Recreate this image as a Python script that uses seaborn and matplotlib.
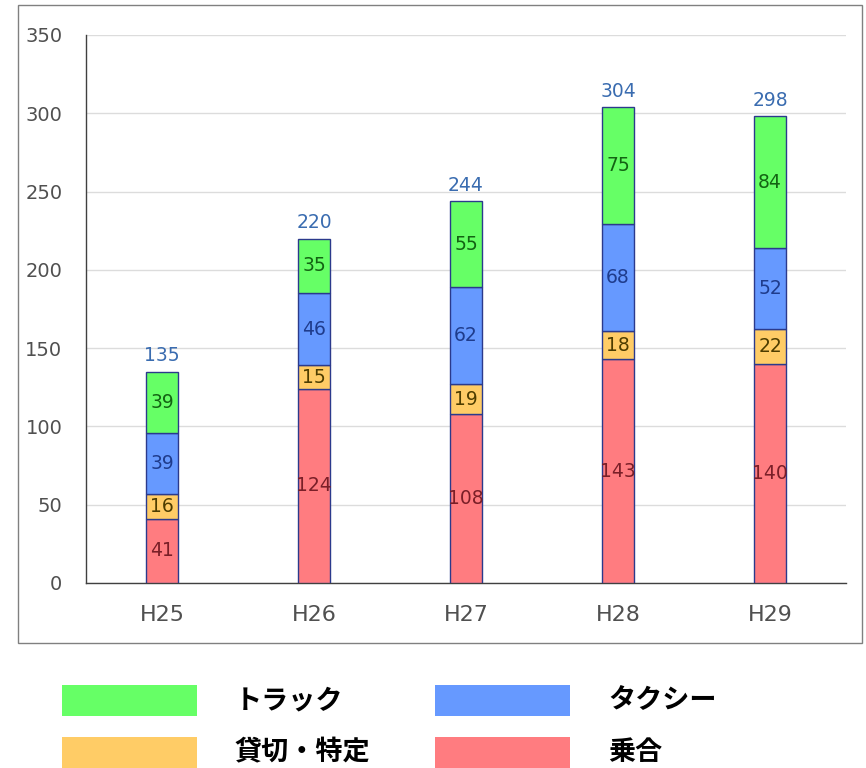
import matplotlib
matplotlib.use("Agg")
import matplotlib.pyplot as plt
from matplotlib.patches import Rectangle
import numpy as np
import pandas as pd
import seaborn as sns

# Fiscal years and counts per category (bottom to top of each stack)
years = ["H25", "H26", "H27", "H28", "H29"]
noriai = [41, 124, 108, 143, 140]      # 乗合
kashikiri = [16, 15, 19, 18, 22]       # 貸切・特定
taxi = [39, 46, 62, 68, 52]            # タクシー
truck = [39, 35, 55, 75, 84]           # トラック
totals = [135, 220, 244, 304, 298]

series_names = ["乗合", "貸切・特定", "タクシー", "トラック"]
series_values = [noriai, kashikiri, taxi, truck]
series_colors = ["#FF7C80", "#FFCC66", "#6699FF", "#66FF66"]
label_colors = ["#7a1f28", "#4d3d00", "#1f3c8c", "#136313"]
yticks = [0, 50, 100, 150, 200, 250, 300, 350]

sns.set_theme(style="white")
plt.rcParams["font.family"] = ["DejaVu Sans", "Noto Sans CJK JP"]

W, H = 866, 768
fig = plt.figure(figsize=(W / 100, H / 100), dpi=100)
ax = fig.add_axes([86 / W, 1 - 583 / H, (846 - 86) / W, (583 - 35) / H])

# outer chart frame
fig.patches.append(Rectangle((18 / W, 1 - 643 / H), (862 - 18) / W, (643 - 5) / H,
                             transform=fig.transFigure, fill=False,
                             edgecolor="#808080", linewidth=1.0))

df = pd.DataFrame({"year": years})
bottom = np.zeros(len(years))
for name, vals, col, lcol in zip(series_names, series_values, series_colors, label_colors):
    df[name] = vals
    sns.barplot(data=df, x="year", y=name, order=years, color=col, width=0.21,
                bottom=bottom, edgecolor="#2b3a8c", linewidth=1.0,
                saturation=1, errorbar=None, ax=ax, zorder=3)
    for i, v in enumerate(vals):
        ax.text(i, bottom[i] + v / 2, str(v), ha="center", va="center",
                fontsize=13.5, color=lcol, zorder=4)
    bottom = bottom + np.array(vals)

for i, t in enumerate(totals):
    ax.text(i, t + 4, str(t), ha="center", va="bottom", fontsize=13.5,
            color="#3a6cb0", zorder=4)

ax.set_xlim(-0.5, 4.5)
ax.set_ylim(0, 350)
ax.set_yticks(yticks)
ax.set_yticklabels([str(v) for v in yticks])
ax.set_xlabel("")
ax.set_ylabel("")
ax.yaxis.grid(True, color="#dcdcdc", linewidth=1.0, zorder=0)
ax.set_axisbelow(True)
for s in ["top", "right"]:
    ax.spines[s].set_visible(False)
for s in ["left", "bottom"]:
    ax.spines[s].set_color("#404040")
    ax.spines[s].set_linewidth(1.0)
ax.tick_params(axis="y", direction="in", length=6, width=1, color="#404040",
               labelsize=14, labelcolor="#505050", pad=17)
ax.tick_params(axis="x", which="major", length=0, labelsize=16,
               labelcolor="#505050", pad=16)
ax.set_xticks([0.5, 1.5, 2.5, 3.5], minor=True)
ax.tick_params(axis="x", which="minor", direction="in", length=5, width=1,
               color="#404040")

# legend drawn below the frame, two columns
legend_order = ["トラック", "タクシー", "貸切・特定", "乗合"]
color_of = dict(zip(series_names, series_colors))
cols_x = [62, 435]
rows_y = [685, 737]
for k, name in enumerate(legend_order):
    x0 = cols_x[k % 2]
    y0 = rows_y[k // 2]
    fig.patches.append(Rectangle((x0 / W, 1 - (y0 + 31) / H), 135 / W, 31 / H,
                                 transform=fig.transFigure, facecolor=color_of[name],
                                 edgecolor="none"))
    fig.text((x0 + 173) / W, 1 - (y0 + 15.5) / H, name, ha="left", va="center",
             fontsize=19.5, fontweight="bold", color="black",
             family=["Noto Sans CJK JP", "DejaVu Sans"])

fig.savefig("out.png", dpi=100)
